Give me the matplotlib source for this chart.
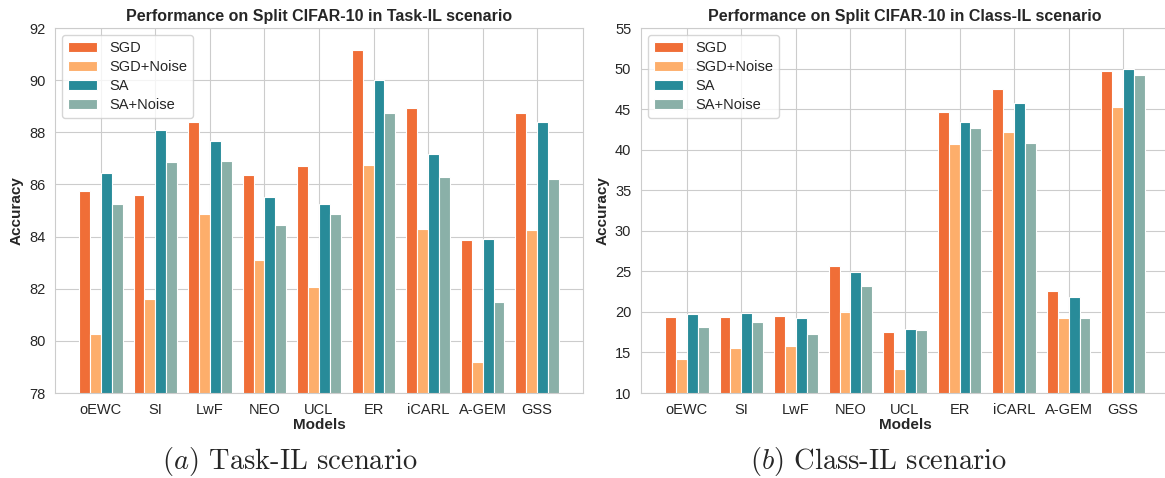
import matplotlib
matplotlib.use("Agg")
import matplotlib.pyplot as plt
import seaborn as sns
import numpy as np

models = ['oEWC', 'SI', 'LwF', 'NEO', 'UCL', 'ER', 'iCARL', 'A-GEM', 'GSS']
methods = ['SGD', 'SGD+Noise', 'SA', 'SA+Noise']

# Task-IL accuracies
task_sgd = [85.75, 85.6, 88.4, 86.35, 86.7, 91.15, 88.95, 83.85, 88.75]
task_sgd_noise = [80.25, 81.6, 84.85, 83.1, 82.05, 86.75, 84.3, 79.2, 84.25]
task_sa = [86.45, 88.1, 87.65, 85.5, 85.25, 90.0, 87.15, 83.9, 88.4]
task_sa_noise = [85.25, 86.85, 86.9, 84.45, 84.85, 88.75, 86.3, 81.5, 86.2]

# Class-IL accuracies
class_sgd = [19.4, 19.4, 19.5, 25.6, 17.5, 44.7, 47.5, 22.6, 49.7]
class_sgd_noise = [14.2, 15.5, 15.8, 20.0, 12.9, 40.7, 42.2, 19.2, 45.2]
class_sa = [19.8, 19.9, 19.2, 24.9, 17.9, 43.4, 45.7, 21.8, 50.0]
class_sa_noise = [18.2, 18.8, 17.3, 23.2, 17.8, 42.7, 40.8, 19.3, 49.2]

colors = ['#F06E37', '#FDAE6B', '#288B99', '#8AB0A8']

sns.set_style('whitegrid')
plt.rcParams['font.family'] = ['Liberation Sans', 'DejaVu Sans']
plt.rcParams['mathtext.fontset'] = 'cm'

fig = plt.figure(figsize=(11.65, 4.78), dpi=100)
ax1 = fig.add_axes([0.0472, 0.1778, 0.4532, 0.7636])
ax2 = fig.add_axes([0.5502, 0.1778, 0.4532, 0.7636])


def draw_panel(ax, series, title, ylim, yticks):
    x = np.arange(len(models))
    width = 0.2
    for i, (vals, name) in enumerate(zip(series, methods)):
        ax.bar(x + (i - 1.5) * width, vals, width, label=name, color=colors[i],
               edgecolor='white', linewidth=0.8, zorder=2)
    ax.set_xlim(-0.84, 8.84)
    ax.set_ylim(*ylim)
    ax.set_yticks(yticks)
    ax.set_xticks(x)
    ax.set_xticklabels(models, fontsize=10.5)
    ax.tick_params(axis='y', labelsize=10.5)
    ax.set_title(title, fontsize=11.5, fontweight='bold', pad=5)
    ax.set_xlabel('Models', fontsize=11, fontweight='bold', labelpad=1)
    ax.set_ylabel('Accuracy', fontsize=11, fontweight='bold')
    ax.legend(loc='upper left', fontsize=10.5, labelspacing=0.35)
    ax.set_axisbelow(True)


draw_panel(ax1, [task_sgd, task_sgd_noise, task_sa, task_sa_noise],
           'Performance on Split CIFAR-10 in Task-IL scenario', (78, 92), np.arange(78, 93, 2))
draw_panel(ax2, [class_sgd, class_sgd_noise, class_sa, class_sa_noise],
           'Performance on Split CIFAR-10 in Class-IL scenario', (10, 55), np.arange(10, 56, 5))

fig.text(290 / 1165, 1 - 462 / 478, r'$(a)$ Task-IL scenario', fontsize=20.5,
         family='cmr10', ha='center', va='center')
fig.text(878 / 1165, 1 - 462 / 478, r'$(b)$ Class-IL scenario', fontsize=20.5,
         family='cmr10', ha='center', va='center')

fig.savefig('out.png', dpi=100)
